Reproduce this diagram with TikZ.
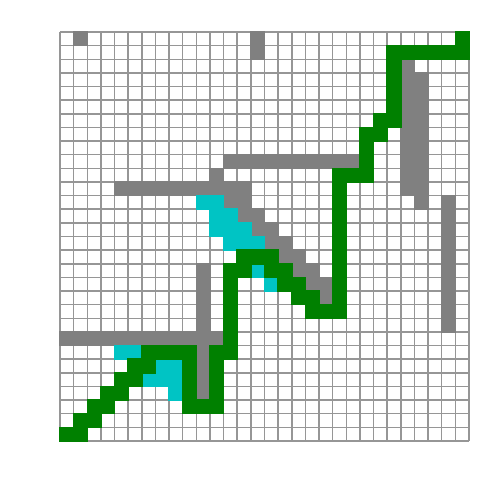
\documentclass[tikz,border=0pt]{standalone}
\definecolor{cellgray}{RGB}{128,128,128}
\definecolor{cellgreen}{RGB}{0,128,0}
\definecolor{cellcyan}{RGB}{0,196,196}
\definecolor{linegray}{RGB}{150,150,150}
\tikzset{
  gridline/.style={draw=linegray,line width=0.75pt},
  graycell/.style={fill=cellgray,draw=cellgray,line width=0.75pt},
  greencell/.style={fill=cellgreen,draw=cellgreen,line width=0.75pt},
  cyancell/.style={fill=cellcyan,draw=cellcyan,line width=0.75pt}
}
\newcommand\cellblock[5]{\path[#1] ({60+13.6333*#2},{32+13.6333*#3}) rectangle ({60+13.6333*(#4+1)},{32+13.6333*(#5+1)});}
\begin{document}
\begin{tikzpicture}[x=0.5pt,y=-0.5pt]
\useasboundingbox[fill=white] (0,0) rectangle (500,496);
% grid
\foreach \i in {0,...,30}{
  \draw[gridline] ({60+13.6333*\i},32) -- ({60+13.6333*\i},441);
  \draw[gridline] (60,{32+13.6333*\i}) -- (469,{32+13.6333*\i});
}
% gray cells
\foreach \a/\b/\c/\d in {1/0/1/0, 14/0/14/1, 25/2/25/11, 26/3/26/12, 28/12/28/21,
  12/9/21/9, 11/10/11/10, 4/11/13/11, 12/12/13/12, 13/13/14/13, 14/14/15/14,
  15/15/16/15, 16/16/17/16, 17/17/18/17, 18/18/19/18, 19/19/19/19,
  10/17/10/26, 0/22/11/22}
  {\cellblock{graycell}{\a}{\b}{\c}{\d}}
% cyan cells
\foreach \a/\b/\c/\d in {10/12/11/12, 11/13/12/13, 11/14/13/14, 12/15/14/15,
  14/17/14/17, 15/18/15/18, 4/23/5/23, 7/24/8/24, 6/25/8/25, 8/26/8/26}
  {\cellblock{cyancell}{\a}{\b}{\c}{\d}}
% green path
\foreach \a/\b/\c/\d in {29/0/29/1, 24/1/29/1, 24/1/24/6, 23/6/23/7, 22/7/22/10,
  20/10/22/10, 20/10/20/20, 18/20/20/20, 17/19/18/19, 16/18/17/18, 15/17/16/17,
  13/16/15/16, 12/17/13/17, 12/17/12/23, 11/23/12/23, 11/23/11/27, 9/27/11/27,
  9/23/9/27, 6/23/9/23, 5/24/6/24, 4/25/5/25, 3/26/4/26, 2/27/3/27, 1/28/2/28,
  0/29/1/29}
  {\cellblock{greencell}{\a}{\b}{\c}{\d}}
\end{tikzpicture}
\end{document}
